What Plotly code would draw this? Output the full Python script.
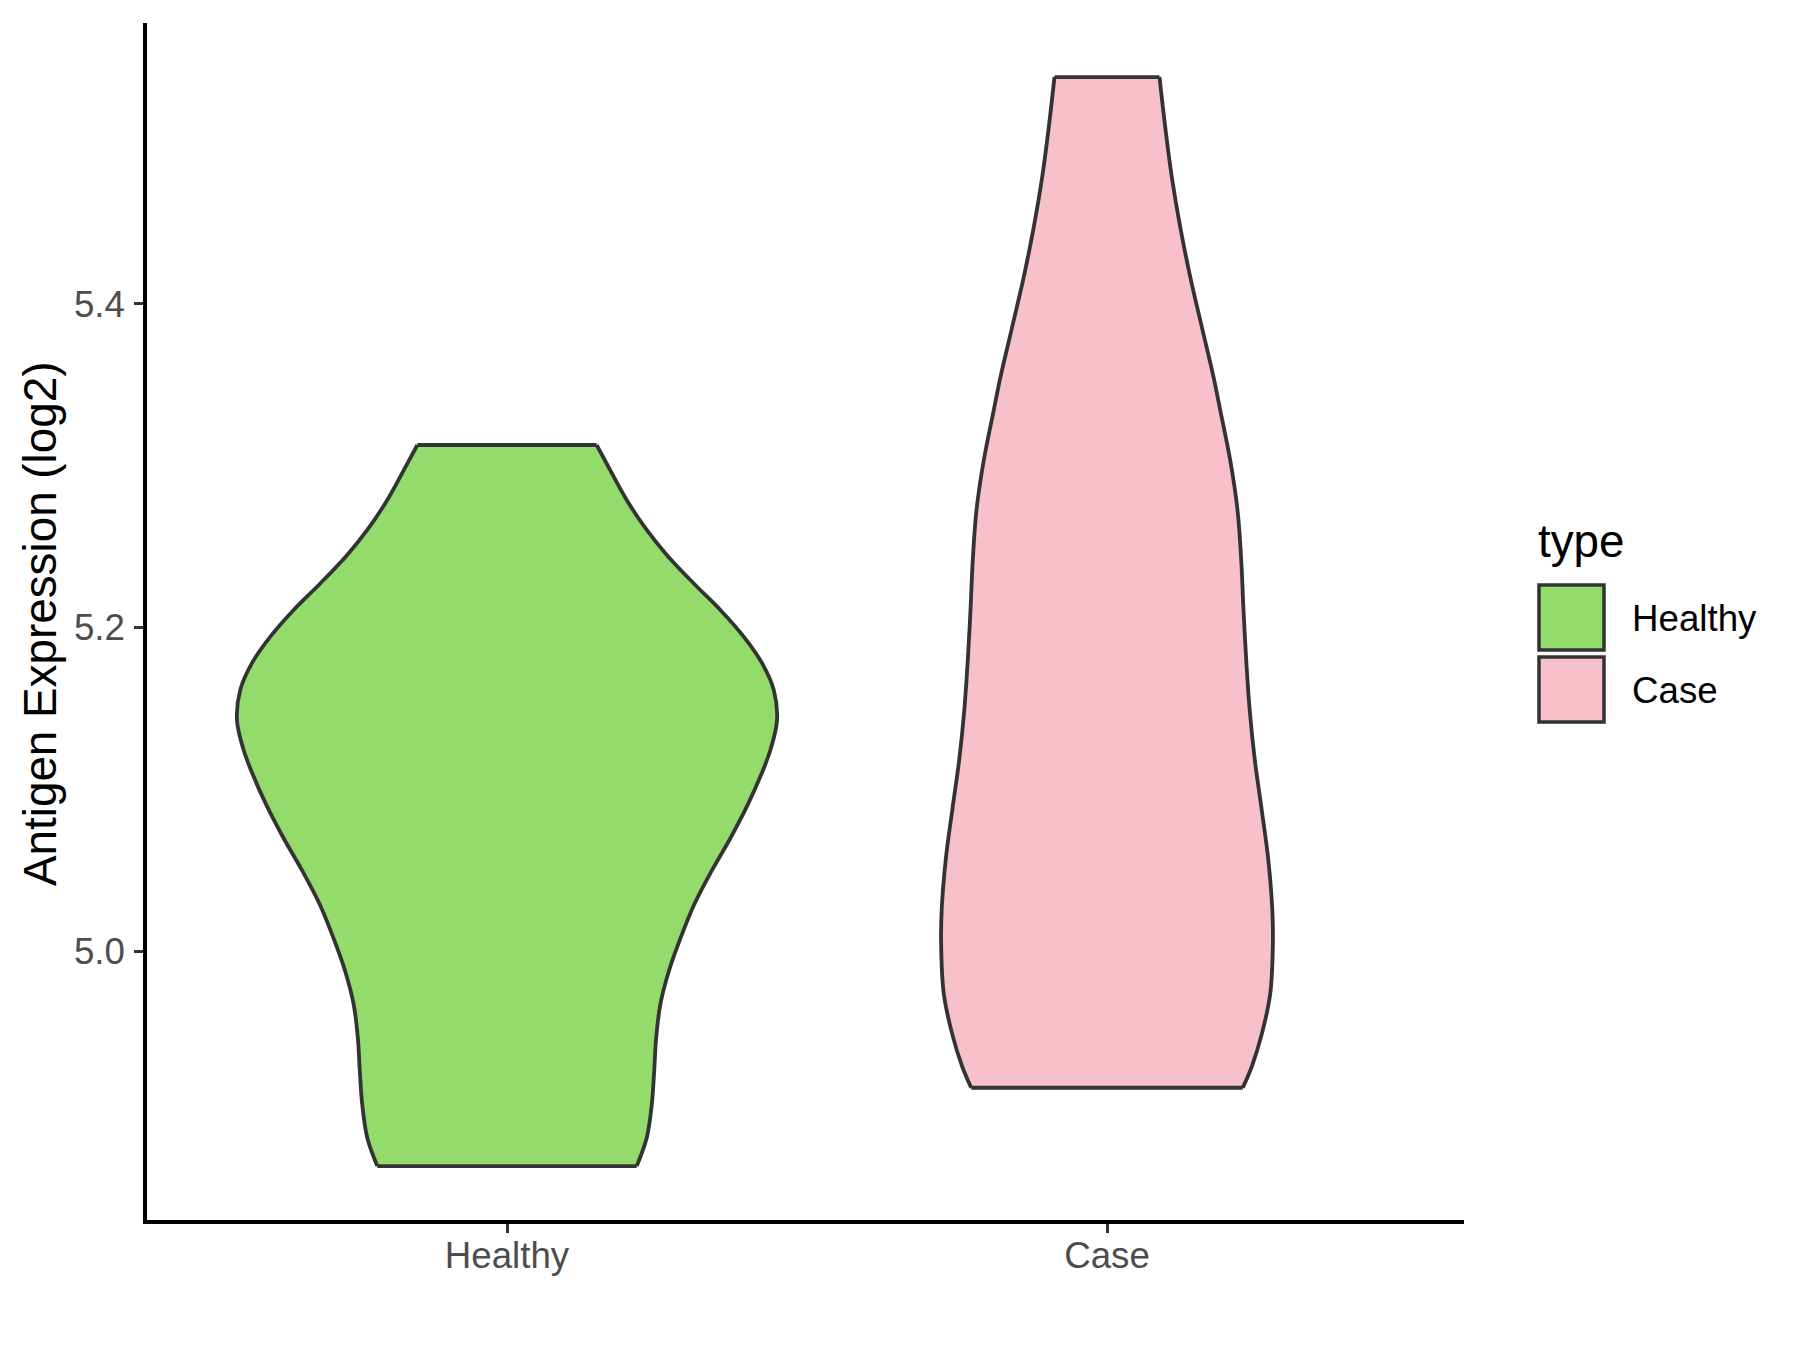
import plotly.graph_objects as go

# ---- data ----
categories = ["Healthy", "Case"]
fill_colors = ["#93DB6A", "#F7C0CB"]

# violin density profile: y level and half-width (in category-axis units)
healthy_y = [5.3128, 5.2974, 5.2788, 5.2603, 5.2449, 5.2274, 5.2109, 5.1944,
             5.1780, 5.1615, 5.1430, 5.1245, 5.1101, 5.0906, 5.0700, 5.0494,
             5.0288, 5.0083, 4.9877, 4.9671, 4.9465, 4.9259, 4.9054, 4.8848,
             4.8673]
healthy_hw = [0.1494, 0.1718, 0.1995, 0.2329, 0.2663, 0.3109, 0.3556, 0.3945,
              0.4251, 0.4446, 0.4501, 0.4391, 0.4247, 0.4013, 0.3725, 0.3406,
              0.3118, 0.2893, 0.2697, 0.2555, 0.2486, 0.2453, 0.2413, 0.2329,
              0.2162]

case_y = [5.5401, 5.5093, 5.4784, 5.4475, 5.4167, 5.3858, 5.3549, 5.3344,
          5.3035, 5.2727, 5.2418, 5.2109, 5.1801, 5.1492, 5.1183, 5.0875,
          5.0566, 5.0257, 5.0052, 4.9743, 4.9496, 4.9290, 4.9157]
case_hw = [0.0875, 0.0970, 0.1080, 0.1220, 0.1387, 0.1580, 0.1775, 0.1887,
           0.2053, 0.2175, 0.2237, 0.2275, 0.2320, 0.2378, 0.2463, 0.2578,
           0.2688, 0.2755, 0.2765, 0.2722, 0.2585, 0.2415, 0.2263]

y_ticks = [5.0, 5.2, 5.4]
y_range = [4.834, 5.5735]
x_range = [0.4, 2.595]

profiles = [(healthy_y, healthy_hw), (case_y, case_hw)]

FONT = "Liberation Sans, Arial, sans-serif"
OUTLINE = "#333333"
LW = 3.8

fig = go.Figure()
for i, (ys, hws) in enumerate(profiles):
    c = i + 1
    left_x = [c - h for h in hws]
    right_x = [c + h for h in hws]
    fig.add_trace(go.Scatter(
        x=left_x, y=ys, mode="lines",
        line=dict(color=OUTLINE, width=LW, shape="spline", smoothing=1),
        showlegend=False, hoverinfo="skip"))
    fig.add_trace(go.Scatter(
        x=right_x, y=ys, mode="lines", fill="tonextx",
        fillcolor=fill_colors[i],
        line=dict(color=OUTLINE, width=LW, shape="spline", smoothing=1),
        name=categories[i], showlegend=False, hoverinfo="skip"))
    # flat top and bottom edges of the violin
    fig.add_trace(go.Scatter(
        x=[left_x[0], right_x[0], None, left_x[-1], right_x[-1]],
        y=[ys[0], ys[0], None, ys[-1], ys[-1]], mode="lines",
        line=dict(color=OUTLINE, width=LW),
        showlegend=False, hoverinfo="skip"))

# page body has an 8px margin, so the plot area is shifted by 8px
OFF = 8
X0, Y1 = 147, 1220          # target screen position of plot-area left / bottom
W, H = 1800, 1350
pw, ph = 1317, 1197
L, T = X0 - OFF, 23 - OFF
R = W - L - pw
B = H - T - ph

fig.update_layout(
    width=W, height=H,
    margin=dict(l=L, r=R, t=T, b=B, pad=0),
    paper_bgcolor="white", plot_bgcolor="white",
    font=dict(family=FONT, color="#4D4D4D", size=37),
    xaxis=dict(range=x_range, tickvals=[1, 2], ticktext=categories,
               showgrid=False, zeroline=False, showline=True,
               linecolor="black", linewidth=3.5, ticks="outside",
               ticklen=9, tickwidth=2.8, tickcolor=OUTLINE,
               tickfont=dict(size=36.7, color="#4D4D4D", family=FONT),
               ticklabelstandoff=-9, automargin=False),
    yaxis=dict(range=y_range, tickvals=y_ticks, tickformat=".1f",
               showgrid=False, zeroline=False, showline=True,
               linecolor="black", linewidth=3.5, ticks="outside",
               ticklen=9, tickwidth=2.8, tickcolor=OUTLINE,
               tickfont=dict(size=36.7, color="#4D4D4D", family=FONT),
               ticklabelstandoff=2, automargin=False),
)

def px(xp):
    return (xp - X0) / pw

def py(yp):
    return (Y1 - yp) / ph

# y axis title
fig.add_annotation(text="Antigen Expression (log2)", xref="paper", yref="paper",
                   x=px(40), y=py(624), textangle=-90, showarrow=False,
                   xanchor="center", yanchor="middle",
                   font=dict(size=45.8, color="black", family=FONT))

# legend (drawn manually to mimic ggplot keys)
fig.add_annotation(text="type", xref="paper", yref="paper",
                   x=px(1536), y=py(541), showarrow=False,
                   xanchor="left", yanchor="middle",
                   font=dict(size=45.8, color="black", family=FONT))
key_tops = [585, 657]
for i, cat in enumerate(categories):
    t = key_tops[i]
    fig.add_shape(type="rect", xref="paper", yref="paper",
                  x0=px(1539), x1=px(1604), y0=py(t + 65), y1=py(t),
                  fillcolor=fill_colors[i], line=dict(color=OUTLINE, width=3.5))
    fig.add_annotation(text=cat, xref="paper", yref="paper",
                       x=px(1630), y=py(t + 33), showarrow=False,
                       xanchor="left", yanchor="middle",
                       font=dict(size=36.7, color="black", family=FONT))

fig.write_html("out.html")
